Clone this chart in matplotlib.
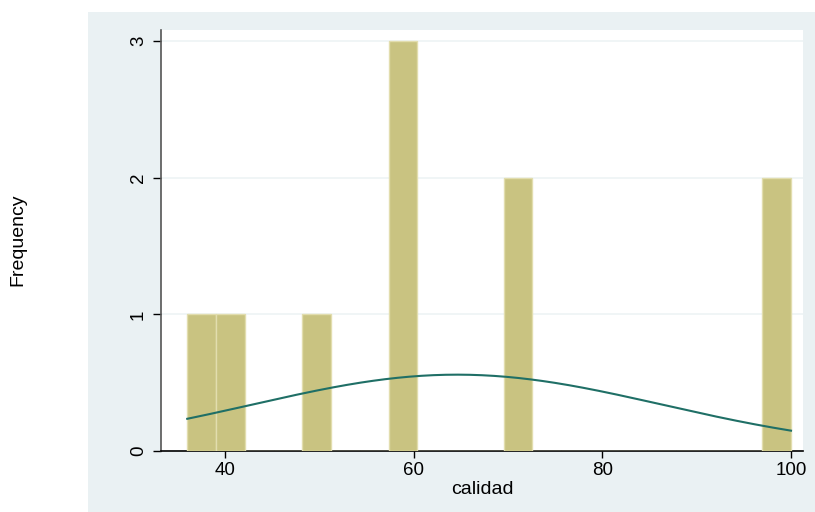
import numpy as np
import matplotlib
matplotlib.use("Agg")
import matplotlib.pyplot as plt
from matplotlib.patches import Rectangle

plt.rcParams['font.family'] = ['Liberation Sans', 'DejaVu Sans']

# Observed values of "calidad"
calidad = [36, 40, 50, 60, 60, 60, 70, 70, 100, 100]
n_bins = 21
x_ticks = [40, 60, 80, 100]
y_ticks = [0, 1, 2, 3]

W, H = 815, 512
fig = plt.figure(figsize=(W / 100, H / 100), dpi=100)
fig.patch.set_facecolor('white')

# Outer shaded graph region
bg = '#EAF1F3'
fig.patches.append(Rectangle((88 / W, 0), 1 - 88 / W, 1 - 12 / H,
                             transform=fig.transFigure, facecolor=bg,
                             edgecolor='none', zorder=-10))

left, right, top, bottom = 161, 803, 30, 451
ax = fig.add_axes([left / W, 1 - bottom / H, (right - left) / W, (bottom - top) / H])
ax.set_facecolor('white')

data = np.array(calidad, dtype=float)
lo, hi = data.min(), data.max()
width = (hi - lo) / n_bins
ax.hist(data, bins=n_bins, range=(lo, hi), color='#C9C381',
        edgecolor='#E2DDAE', linewidth=1.0, zorder=3)

# Normal density scaled to frequency
mu, sd = data.mean(), data.std(ddof=1)
xs = np.linspace(lo, hi, 300)
ys = len(data) * width * np.exp(-0.5 * ((xs - mu) / sd) ** 2) / (sd * np.sqrt(2 * np.pi))
ax.plot(xs, ys, color='#1F6F66', linewidth=1.5, zorder=4)

x_per_px = 20 / 188.7
ax.set_xlim(40 - (225 - left) * x_per_px, 100 + (right - 791) * x_per_px)
y_per_px = 1 / 137.0
ax.set_ylim(0, 3 + (41 - top) * y_per_px)

ax.set_xticks(x_ticks)
ax.set_yticks(y_ticks)
ax.set_yticklabels([str(v) for v in y_ticks], rotation=90, va='center')
ax.tick_params(axis='both', labelsize=13.5, length=6, width=1, color='black', pad=4)
ax.tick_params(axis='x', length=5, pad=3)
ax.grid(axis='y', color='#EDF3F5', linewidth=1.2, zorder=0)
ax.set_axisbelow(True)

for s in ['top', 'right']:
    ax.spines[s].set_visible(False)
ax.spines['left'].set_color('#555555')
ax.spines['left'].set_linewidth(1.2)
ax.spines['bottom'].set_color('black')
ax.spines['bottom'].set_linewidth(1.2)

fig.text(482 / W, 1 - 490 / H, 'calidad', ha='center', va='center', fontsize=14)
fig.text(18 / W, 1 - 240 / H, 'Frequency', ha='center', va='center',
         rotation=90, fontsize=14)

fig.savefig('out.png', dpi=100, facecolor=fig.get_facecolor())
